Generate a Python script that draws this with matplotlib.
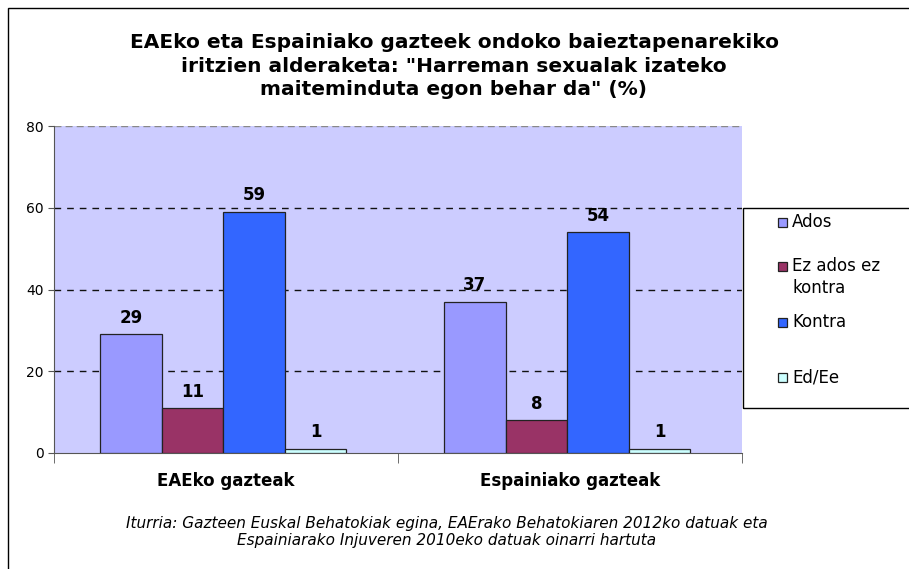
import numpy as np
import matplotlib.pyplot as plt
from matplotlib.patches import Rectangle

# donnees
groupes = ["EAEko gazteak", "Espainiako gazteak"]
series = ["Ados", "Ez ados ez\nkontra", "Kontra", "Ed/Ee"]
valeurs = [
    [29, 37],
    [11, 8],
    [59, 54],
    [1, 1],
]
couleurs = ["#9999FF", "#993366", "#3366FF", "#CCFFFF"]

titre = ('EAEko eta Espainiako gazteek ondoko baieztapenarekiko\n'
         'iritzien alderaketa: "Harreman sexualak izateko\n'
         'maiteminduta egon behar da" (%)')
source = ("Iturria: Gazteen Euskal Behatokiak egina, EAErako Behatokiaren 2012ko datuak eta\n"
          "Espainiarako Injuveren 2010eko datuak oinarri hartuta")

fig = plt.figure(figsize=(9.09, 5.69), dpi=100)
ax = fig.add_axes([54/909, 116/569, 688/909, 327/569])
ax.set_facecolor("#CCCCFF")

x = np.arange(len(groupes))
w = 0.179
for i, (vals, c) in enumerate(zip(valeurs, couleurs)):
    pos = x + (i - 1.5) * w - 0.008
    ax.bar(pos, vals, w, color=c, edgecolor="#222222", linewidth=0.9, zorder=3)
    for p, v in zip(pos, vals):
        ax.text(p, v + 2.8, str(v), ha="center", va="baseline",
                fontsize=12, fontweight="bold", zorder=4)

ax.set_xlim(-0.5, 1.5)
ax.set_ylim(0, 80)
ax.set_yticks([0, 20, 40, 60, 80])
ax.tick_params(axis="y", labelsize=10, length=4, color="#555555")
for yv in [20, 40, 60]:
    ax.axhline(yv, color="#111111", linestyle=(0, (4.8, 4.3)), linewidth=1, zorder=1)
ax.axhline(80, color="#888888", linestyle=(0, (5, 3)), linewidth=1, zorder=1)

ax.set_xticks(x)
ax.set_xticklabels(groupes, fontsize=12, fontweight="bold")
ax.tick_params(axis="x", length=0, pad=14)
ax.set_xticks([-0.5, 0.5, 1.5], minor=True)
ax.tick_params(axis="x", which="minor", length=7, color="#555555")

for s in ["top", "right"]:
    ax.spines[s].set_visible(False)
ax.spines["left"].set_color("#555555")
ax.spines["bottom"].set_color("#555555")

fig.text(454/909, 1 - 66/569, titre, ha="center", va="center",
         fontsize=14.5, fontweight="bold", linespacing=1.32)
fig.text(447/909, 1 - 532/569, source, ha="center", va="center",
         fontsize=11, style="italic", linespacing=1.2)

# cadre exterieur
fig.patches.append(Rectangle((8/909, -0.1), 1.0, 1.1 - 8/569, transform=fig.transFigure,
                             fill=False, edgecolor="black", linewidth=1))

# legende
fig.patches.append(Rectangle((743/909, 1 - 408/569), 0.3, 200/569, transform=fig.transFigure,
                             fill=False, edgecolor="black", linewidth=1))
ly = [222, 266, 322, 377]
for lab, c, yy in zip(series, couleurs, ly):
    fig.patches.append(Rectangle((778/909, 1 - (yy + 5)/569), 9/909, 9/569,
                                 transform=fig.transFigure, facecolor=c,
                                 edgecolor="#222222", linewidth=0.9))
    fig.text(792/909, 1 - (yy - 9)/569, lab, ha="left", va="top", fontsize=12,
             linespacing=1.3)

fig.savefig("out.png", dpi=100)
